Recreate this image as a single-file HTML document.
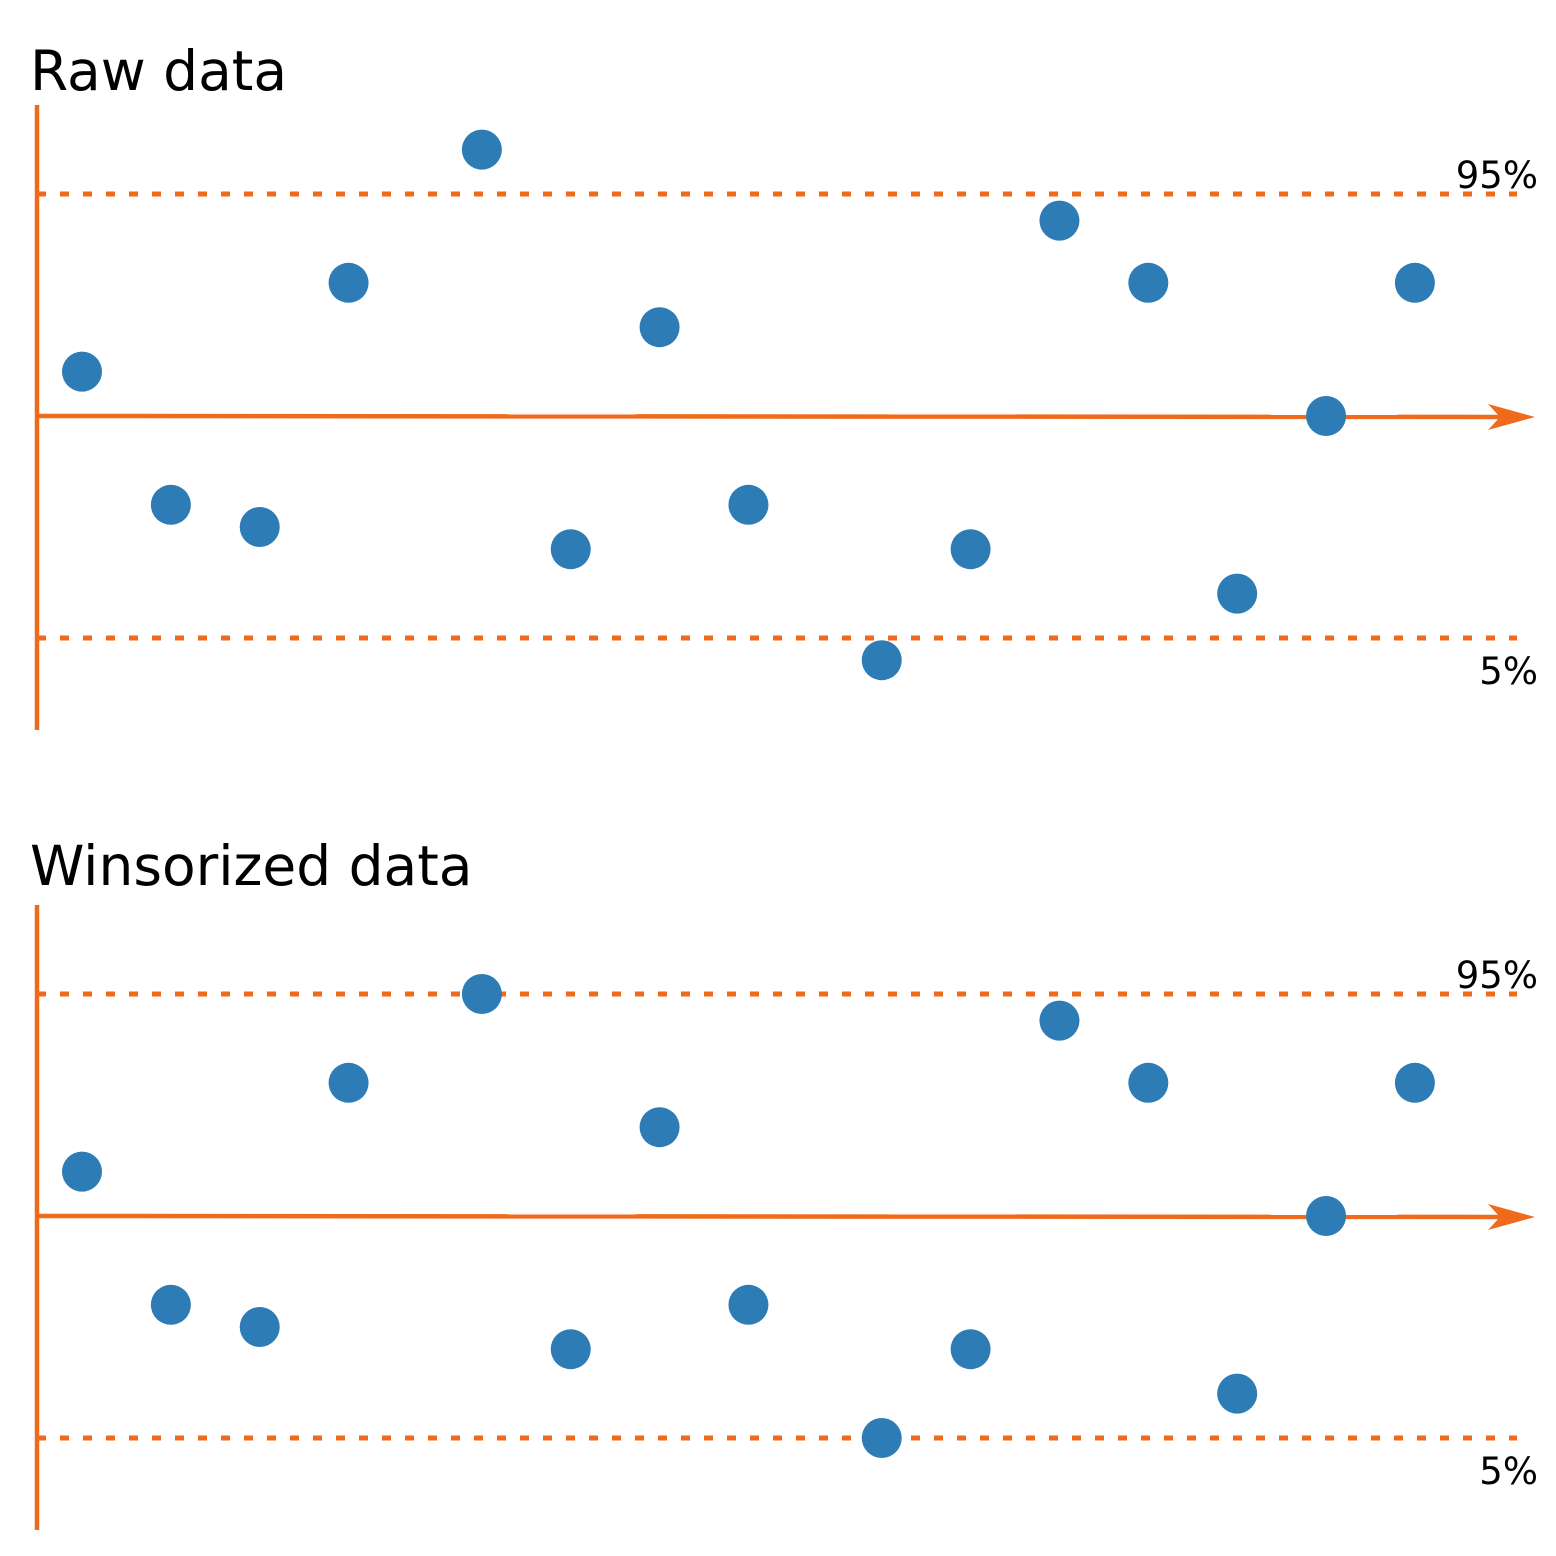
<!DOCTYPE html>
<html><head><meta charset="utf-8"><style>
html,body{margin:0;padding:0;background:#fff;}
svg{display:block;font-family:"DejaVu Sans","Liberation Sans",sans-serif;}
</style></head><body>
<svg id="chart" width="1556" height="1556" viewBox="0 0 1556 1556" xmlns="http://www.w3.org/2000/svg">
</svg>
<script>
// positions along x in index units
const xIndex = [0,2,4,6,9,11,13,15,18,20,22,24,26,28,30];
// raw values: +1 = 95th percentile, -1 = 5th percentile, 0 = mean axis
const rawValues = [0.2,-0.4,-0.5,0.6,1.2,-0.6,0.4,-0.4,-1.1,-0.6,0.88,0.6,-0.8,0,0.6];
const upperPct = 1;
const lowerPct = -1;
const panelTitles = ["Raw data","Winsorized data"];

const svg = document.getElementById('chart');
const NS = 'http://www.w3.org/2000/svg';
const ORANGE = '#ef6a1a', BLUE = '#2e7cb5';
const xScale = i => 82 + 44.43 * i;
function mk(tag, attrs){const e=document.createElementNS(NS,tag);for(const k in attrs)e.setAttribute(k,attrs[k]);svg.appendChild(e);return e;}

panelTitles.forEach((title, p) => {
  const off = p * 800;
  const y0 = 416 + off;
  const yScale = v => y0 - v * 222;
  const values = p === 0 ? rawValues : rawValues.map(v => Math.max(lowerPct, Math.min(upperPct, v)));

  const t = mk('text',{x:30,y:p===0?90:885,'font-size':55,fill:'#000'});
  t.textContent = title;
  
  

  const va = mk('line',{x1:37,y1:105+off,x2:37,y2:730+off,stroke:ORANGE,'stroke-width':4.5});
  
  

  [[upperPct,'95%'],[lowerPct,'5%']].forEach(([v,lab]) => {
    const y = yScale(v);
    const l = mk('line',{x1:37,y1:y,x2:1517,y2:y,stroke:ORANGE,'stroke-width':5,'stroke-dasharray':'9 14'});
    
    
    const tx = mk('text',{x:1538,y:v>0?y-6:y+46,'font-size':37,'text-anchor':'end',fill:'#000'});
    tx.textContent = lab;
    
    
  });

  const ha = mk('line',{x1:37,y1:y0,x2:1500,y2:y0+1,stroke:ORANGE,'stroke-width':4.5});
  
  
  const ah = mk('path',{d:`M1535,${y0+1} L1488,${y0-12} L1500,${y0+1} L1488,${y0+14} Z`,fill:ORANGE});
  
  

  values.forEach((v,i) => {
    const c = mk('circle',{cx:xScale(xIndex[i]),cy:yScale(v),r:20,fill:BLUE});
    
    
  });
});
</script>
</body></html>
